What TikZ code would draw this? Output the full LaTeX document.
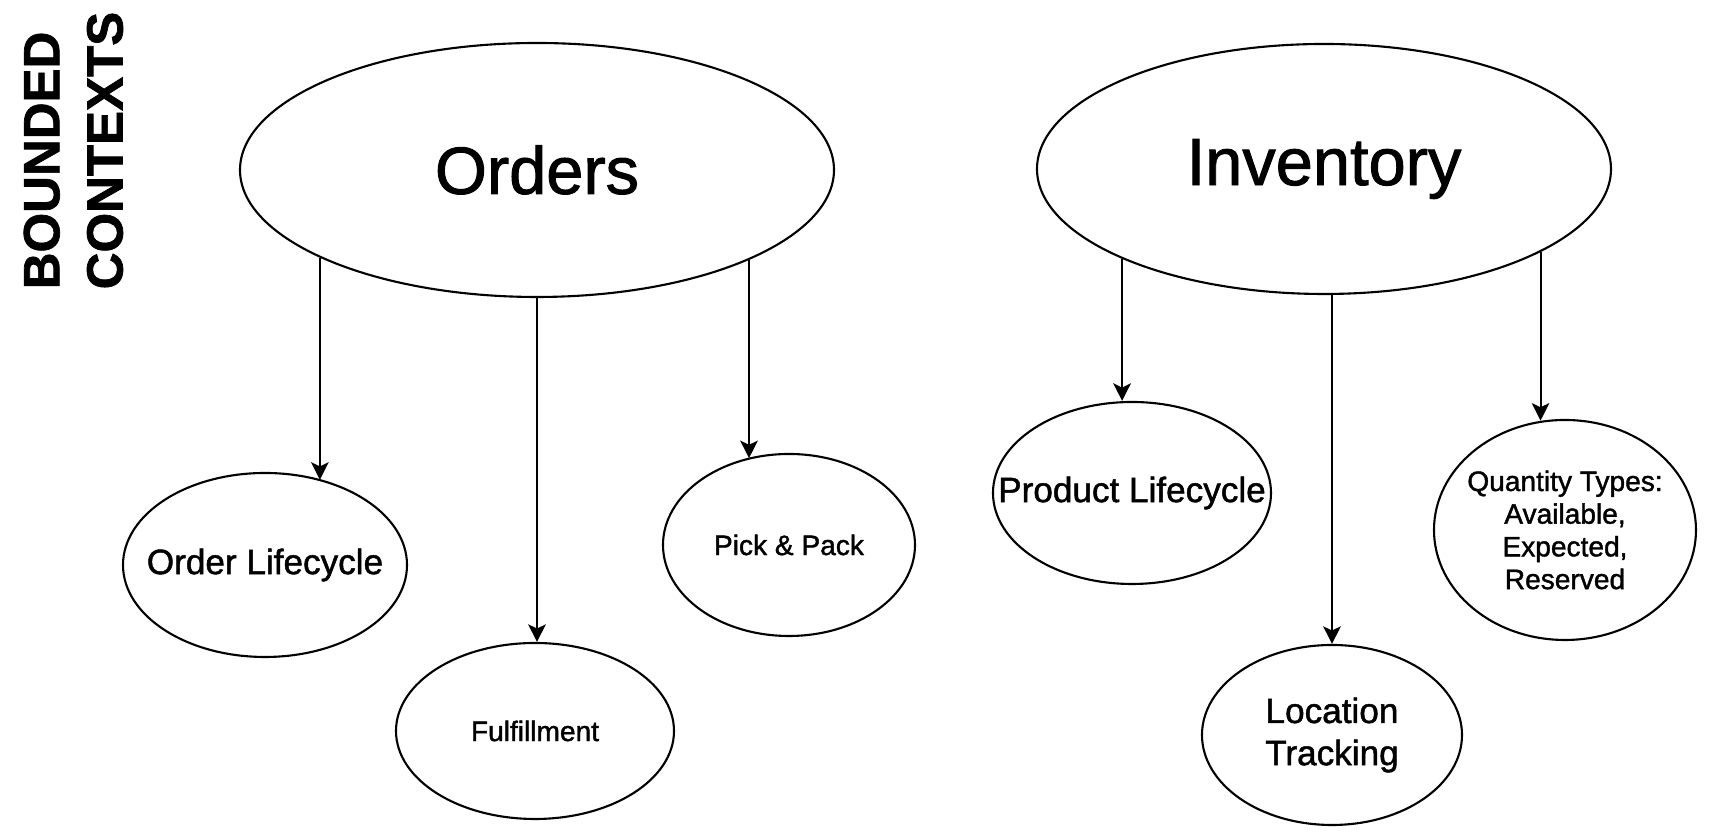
\documentclass[tikz,border=0pt]{standalone}
\usepackage{fontspec}
\setmainfont{Liberation Sans}[FakeBold=1.4]
\usetikzlibrary{shapes.geometric,arrows.meta}
\tikzset{
  ctx/.style={draw, ellipse, line width=0.6pt, fill=white, inner sep=0pt},
  bigtext/.style={font=\fontsize{19}{23}\selectfont},
  subtext/.style={font=\fontsize{10}{12}\selectfont, align=center},
  smalltext/.style={font=\fontsize{8}{9.3}\selectfont, align=center},
  arr/.style={line width=0.55pt, -{Stealth[length=5pt,width=5pt,inset=1.2pt]}}
}
\begin{document}
\begin{tikzpicture}
  \useasboundingbox (0,0) rectangle (17.25,8.32);
  \node[rotate=90, anchor=north west, inner sep=0pt, align=left, font=\fontsize{14.5}{18}\selectfont\bfseries] (title) at (0.23,5.42) {BOUNDED\\CONTEXTS};
  \node[ctx, minimum width=5.94cm, minimum height=2.54cm, label={[bigtext]center:Orders}] (orders) at (5.37,6.62) {};
  \node[ctx, minimum width=5.74cm, minimum height=2.50cm, label={[bigtext]center:Inventory}] (inventory) at (13.24,6.63) {};
  \node[ctx, minimum width=2.84cm, minimum height=1.84cm, label={[subtext]center:Order Lifecycle}] (ordlife) at (2.65,2.67) {};
  \node[ctx, minimum width=2.78cm, minimum height=1.76cm, label={[smalltext]center:Fulfillment}] (fulfil) at (5.35,1.01) {};
  \node[ctx, minimum width=2.52cm, minimum height=1.82cm, label={[smalltext]center:Pick \& Pack}] (pickpack) at (7.89,2.87) {};
  \node[ctx, minimum width=2.78cm, minimum height=1.82cm, label={[subtext]center:Product Lifecycle}] (prodlife) at (11.32,3.39) {};
  \node[ctx, minimum width=2.60cm, minimum height=1.80cm, label={[subtext]center:Location\\Tracking}] (loctrack) at (13.32,0.97) {};
  \node[ctx, minimum width=2.62cm, minimum height=2.20cm, label={[smalltext]center:Quantity Types:\\Available,\\Expected,\\Reserved}] (qty) at (15.65,3.02) {};
  \draw[arr] (orders.202) -- (orders.202 |- ordlife.56);
  \draw[arr] (orders.south) -- (orders.south |- fulfil.north);
  \draw[arr] (orders.337) -- (orders.337 |- pickpack.116);
  \draw[arr] (inventory.204) -- (inventory.204 |- prodlife.north);
  \draw[arr] (loctrack.north |- inventory.south) -- (loctrack.north);
  \draw[arr] (inventory.339) -- (inventory.339 |- qty.102);
\end{tikzpicture}
\end{document}
